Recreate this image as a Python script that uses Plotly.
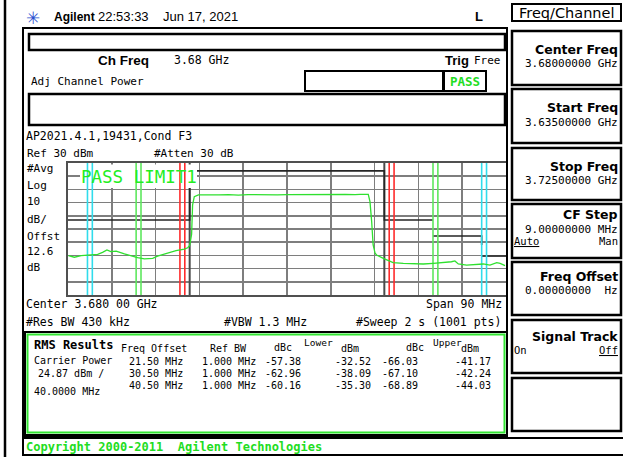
import plotly.graph_objects as go

W, H = 623, 457
MONO = "DejaVu Sans Mono"
SANS = "DejaVu Sans"
LIB = "Liberation Sans"

# ---------------- data ----------------
center_ghz = 3.68
span_mhz = 90
ref_dbm = 30
db_per_div = 10
channel_bw_mhz = 40.0
carrier_power_dbm = 24.87

offsets_mhz = [21.5, 30.5, 40.5]
ref_bw_mhz = [1.0, 1.0, 1.0]
lower_dbc = [-57.38, -62.96, -60.16]
lower_dbm = [-32.52, -38.09, -35.30]
upper_dbc = [-66.03, -67.10, -68.89]
upper_dbm = [-41.17, -42.24, -44.03]

# spectrum trace (offset from centre, MHz / dBm)
trace_f = [-44.9, -43.7, -42.3, -41.0, -38.9, -37.9, -37.0, -36.2, -35.1, -33.4,
           -31.7, -30.7, -29.3, -27.6, -26.6, -24.9, -22.8, -21.1, -20.4, -20.0,
           -19.6, -19.4, -19.05, -18.2, -16.0, -14.0, -12.0, -10.0, -8.0, -6.0,
           -4.0, -2.0, 0.0, 2.0, 4.0, 6.0, 8.0, 10.0, 12.0, 14.0,
           15.0, 16.7, 17.05, 17.4, 17.7, 18.1, 18.4, 19.8, 20.8, 21.8,
           23.9, 25.95, 28.0, 30.06, 32.1, 33.8, 34.5, 35.2, 36.9, 39.0,
           40.3, 41.7, 43.1, 43.8, 44.8]
trace_db = [-40.2, -41.4, -40.2, -39.7, -39.2, -37.7, -35.9, -37.2, -36.7, -38.9,
            -41.0, -41.7, -42.7, -42.2, -40.5, -38.4, -36.4, -35.2, -34.2, -32.5,
            -24.0, -1.8, 4.5, 5.8, 6.1, 5.8, 6.0, 5.7, 6.1, 5.9,
            6.0, 5.8, 6.0, 6.1, 5.9, 6.2, 6.0, 6.1, 6.3, 6.0,
            6.3, 6.2, 0.7, -14.5, -32.1, -38.4, -39.7, -42.2, -44.0, -45.5,
            -46.0, -46.5, -46.5, -46.0, -45.5, -44.8, -44.2, -46.5, -47.3, -46.7,
            -46.5, -47.3, -45.5, -46.0, -47.8]

# limit line
limit_f = [-45, -20, -20, 20, 20, 30, None, 30, 40, 40, None, 40, 45]
limit_db = [-13.2, -13.2, 24, 24, -13.2, -13.2, None, -25.3, -25.3, -32.2, None, -40.5, -40.5]

marker_colors = ["#ff2b2b", "#5ee85e", "#30dcec"]

softkeys = ["Center Freq", "Start Freq", "Stop Freq", "CF Step", "Freq Offset", "Signal Track"]
softkey_values = ["3.68000000 GHz", "3.63500000 GHz", "3.72500000 GHz",
                  "9.00000000 MHz", "0.00000000  Hz", ""]

# ---------------- figure ----------------
fig = go.Figure()
shapes = []
ann = []

# plot-area pixel box
PX0, PX1, PY0, PY1 = 68, 506, 163, 295
ymin, ymax = ref_dbm - 10 * db_per_div, ref_dbm
xmin, xmax = -span_mhz / 2, span_mhz / 2


def px(x):
    return x / W


def py(y):
    return 1 - y / H


def ax_x(pix):  # pixel -> x-axis units (for the label box only)
    return xmin + (pix - PX0) / (PX1 - PX0) * (xmax - xmin)


def ax_y(pix):
    return ymax - (pix - PY0) / (PY1 - PY0) * (ymax - ymin)


def rect(x0, y0, x1, y1, color="black", width=2):
    shapes.append(dict(type="rect", xref="paper", yref="paper",
                       x0=px(x0), x1=px(x1), y0=py(y0), y1=py(y1),
                       line=dict(color=color, width=width),
                       fillcolor="rgba(0,0,0,0)", layer="above"))


def vline(x, y0, y1, color="black", width=2):
    shapes.append(dict(type="line", xref="paper", yref="paper",
                       x0=px(x), x1=px(x), y0=py(y0), y1=py(y1),
                       line=dict(color=color, width=width)))


def T(x, y, text, size=11, family=MONO, color="black", anchor="left"):
    ann.append(dict(x=px(x), y=py(y), xref="paper", yref="paper", text=text,
                    showarrow=False, xanchor=anchor, yanchor="middle",
                    borderpad=0, font=dict(family=family, size=size, color=color)))


def line_trace(x, y, color, width):
    fig.add_trace(go.Scatter(x=x, y=y, mode="lines", line=dict(color=color, width=width),
                             hoverinfo="skip", showlegend=False, connectgaps=False))


# channel edges
half = channel_bw_mhz / 2
for f in (-half, half):
    line_trace([f, f], [ymin, ymax], "#4a4a4a", 2)
# limit line
line_trace(limit_f, limit_db, "#262626", 1.6)
# white box behind the "PASS LIMIT1" text (covers grid / limit / edge, not the markers)
bx0, bx1, by0, by1 = ax_x(80), ax_x(197), ax_y(188), ax_y(164.5)
fig.add_trace(go.Scatter(x=[bx0, bx1, bx1, bx0, bx0], y=[by0, by0, by1, by1, by0],
                         mode="none", fill="toself", fillcolor="white",
                         hoverinfo="skip", showlegend=False))

# integration band markers
for off, bw, col in zip(offsets_mhz, ref_bw_mhz, marker_colors):
    for sgn in (-1, 1):
        for edge in (off - bw / 2, off + bw / 2):
            line_trace([sgn * edge, sgn * edge], [ymin, ymax], col, 1.6)

# spectrum trace
line_trace(trace_f, trace_db, "#2fe02f", 1.3)

# ---------------- screen furniture ----------------
vline(5, 0, 457, width=2.5)
# main frame
rect(23, 28, 507, 436, width=2)
rect(29, 34, 505, 50, width=2.5)
rect(305, 71, 443, 91, width=2)
rect(444, 71, 486, 91, width=2)
rect(29, 94, 505, 125, width=2.5)
# RMS box
rect(25, 332, 507, 435, width=2)
rect(27.5, 334.5, 504.5, 432.5, color="#33e633", width=2)
# copyright box
rect(23, 438, 625, 455, width=2)

# right panel
rect(512, 4, 621, 21, width=2)
key_boxes = [(31, 85), (89, 143), (148, 200), (204, 258), (262, 315), (320, 373), (378, 431)]
for y0, y1 in key_boxes:
    rect(512, y0, 621, y1, width=2.5)

# header
T(25, 17, "✳", size=17, family="Noto Sans CJK SC", color="#2a4fd0")
T(53, 17, "<b>Agilent</b>", size=12, family=LIB)
T(97, 17, "22:53:33", size=13, family=LIB)
T(162, 17, "Jun 17, 2021", size=13, family=LIB)
T(474, 17, "<b>L</b>", size=13, family=LIB)

T(97, 60, "<b>Ch Freq</b>", size=13.5, family=LIB)
T(173, 60, f"{center_ghz:.2f} GHz", size=11.5)
T(444, 60, "<b>Trig</b>", size=13, family=LIB)
T(473, 60, "Free", size=11)
T(30, 81, "Adj Channel Power", size=11)
T(465, 81, "<b>PASS</b>", size=12.5, color="#22dd22", anchor="center")

T(25, 136, "AP2021.4.1,19431,Cond F3", size=11.5)
T(26, 153, f"Ref {ref_dbm} dBm", size=11)
T(153, 153, "#Atten 30 dB", size=11)
for lab, yy in [("#Avg", 169), ("Log", 185.5), ("10", 201.5), ("dB/", 219),
                ("Offst", 236.5), ("12.6", 251.5), ("dB", 267)]:
    T(26, yy, lab, size=11)
T(25, 304, "Center 3.680 00 GHz", size=11.5)
T(503, 304, f"Span {span_mhz} MHz", size=11.5, anchor="right")
T(25, 322, "#Res BW 430 kHz", size=11.5)
T(223, 322, "#VBW 1.3 MHz", size=11.5)
T(502, 322, "#Sweep 2 s (1001 pts)", size=11.5, anchor="right")

T(138.5, 177, "PASS LIMIT1", size=17.5, family=MONO, color="#22ee22", anchor="center")

# RMS results table
T(33, 345, "<b>RMS Results</b>", size=12)
T(120, 348, "Freq Offset", size=10)
T(209, 348, "Ref BW", size=10)
T(273, 347, "dBc", size=10)
T(303, 342, "Lower", size=9.5)
T(340, 348, "dBm", size=10)
T(405, 347, "dBc", size=10)
T(432, 342, "Upper", size=9.5)
T(460, 348, "dBm", size=10)
T(33, 360, "Carrier Power", size=10)
T(37, 373, f"{carrier_power_dbm:.2f} dBm /", size=10)
T(33, 391, f"{channel_bw_mhz:.4f} MHz", size=10)
row_y = [361, 373, 385]
for i in range(3):
    yy = row_y[i]
    T(184, yy, f"{offsets_mhz[i]:.2f} MHz", size=10, anchor="right")
    T(257, yy, f"{ref_bw_mhz[i]:.3f} MHz", size=10, anchor="right")
    T(302, yy, f"{lower_dbc[i]:.2f}", size=10, anchor="right")
    T(372, yy, f"{lower_dbm[i]:.2f}", size=10, anchor="right")
    T(419, yy, f"{upper_dbc[i]:.2f}", size=10, anchor="right")
    T(492, yy, f"{upper_dbm[i]:.2f}", size=10, anchor="right")

T(25, 446.5, "<b>Copyright 2000-2011  Agilent Technologies</b>", size=12, color="#22dd22")

# softkeys
T(566, 13, "Freq/Channel", size=14.5, family=SANS, anchor="center")
title_y = [49.5, 107.5, 166.5, 214.5, 276.5, 336.5]
value_y = [63.5, 122.5, 180.5, 229, 290.5, 350]
for k, v, ty, vy in zip(softkeys, softkey_values, title_y, value_y):
    T(619, ty, f"<b>{k}</b>", size=12.5, family=SANS, anchor="right")
    if v:
        T(619, vy, v, size=11, anchor="right")
T(513, 241, "<u>Auto</u>", size=10.5)
T(619, 241, "Man", size=10.5, anchor="right")
T(513, 350, "On", size=10.5)
T(619, 350, "<u>Off</u>", size=10.5, anchor="right")

fig.update_layout(
    width=W, height=H, autosize=False,
    margin=dict(l=0, r=0, t=0, b=0, pad=0),
    paper_bgcolor="white", plot_bgcolor="white",
    shapes=shapes, annotations=ann, showlegend=False,
    xaxis=dict(domain=[PX0 / W, PX1 / W], range=[xmin, xmax],
               tick0=xmin, dtick=span_mhz / 10, showticklabels=False, ticks="",
               showgrid=True, gridcolor="#7e7e7e", gridwidth=1.6, zeroline=False,
               showline=True, mirror=True, linecolor="#505050", linewidth=2, fixedrange=True),
    yaxis=dict(domain=[1 - PY1 / H, 1 - PY0 / H], range=[ymin, ymax],
               tick0=ref_dbm, dtick=db_per_div, showticklabels=False, ticks="",
               showgrid=True, gridcolor="#7e7e7e", gridwidth=1.6, zeroline=False,
               showline=True, mirror=True, linecolor="#505050", linewidth=2, fixedrange=True),
)

fig.write_html("out.html", config={"displayModeBar": False, "staticPlot": True},
               post_script="document.body.style.margin='0';document.body.style.overflow='hidden';")
